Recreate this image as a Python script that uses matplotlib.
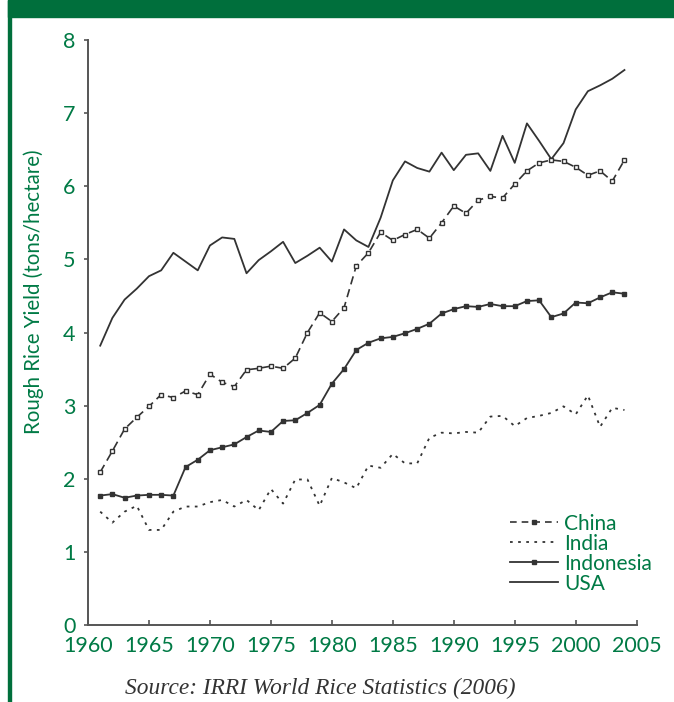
import matplotlib
matplotlib.use("Agg")
import matplotlib.pyplot as plt
from matplotlib.patches import Rectangle
from matplotlib.lines import Line2D

# anos e rendimento (t/ha)
anos = list(range(1961, 2005))

china = [2.09, 2.38, 2.68, 2.84, 2.99, 3.15, 3.11, 3.20, 3.15, 3.43,
         3.32, 3.26, 3.49, 3.51, 3.54, 3.51, 3.65, 4.00, 4.27, 4.15,
         4.34, 4.91, 5.09, 5.37, 5.26, 5.34, 5.41, 5.29, 5.50, 5.73,
         5.63, 5.81, 5.86, 5.84, 6.03, 6.21, 6.32, 6.36, 6.34, 6.26,
         6.15, 6.21, 6.07, 6.36]

india = [1.55, 1.40, 1.55, 1.63, 1.30, 1.30, 1.55, 1.62, 1.62, 1.68,
         1.71, 1.62, 1.71, 1.57, 1.86, 1.66, 1.99, 1.99, 1.63, 2.01,
         1.95, 1.87, 2.18, 2.15, 2.34, 2.21, 2.21, 2.56, 2.63, 2.62,
         2.64, 2.63, 2.85, 2.86, 2.72, 2.83, 2.86, 2.90, 2.99, 2.88,
         3.14, 2.71, 2.97, 2.94]

indonesia = [1.77, 1.79, 1.74, 1.77, 1.78, 1.78, 1.77, 2.16, 2.26, 2.39,
             2.43, 2.47, 2.57, 2.66, 2.64, 2.79, 2.80, 2.90, 3.01, 3.30,
             3.50, 3.76, 3.86, 3.92, 3.94, 3.99, 4.05, 4.12, 4.26, 4.32,
             4.36, 4.35, 4.39, 4.36, 4.36, 4.43, 4.44, 4.21, 4.26, 4.41,
             4.40, 4.48, 4.55, 4.53]

usa = [3.82, 4.20, 4.45, 4.60, 4.77, 4.85, 5.09, 4.97, 4.85, 5.19,
       5.30, 5.28, 4.81, 4.99, 5.11, 5.24, 4.95, 5.05, 5.16, 4.97,
       5.41, 5.26, 5.17, 5.57, 6.08, 6.34, 6.25, 6.20, 6.46, 6.22,
       6.43, 6.45, 6.21, 6.69, 6.32, 6.86, 6.62, 6.37, 6.59, 7.05,
       7.30, 7.38, 7.47, 7.59]

anos_ticks = list(range(1960, 2006, 5))
y_ticks = list(range(0, 9))

verde = "#007a45"
faixa = "#006f3c"
cor = "#333333"
fonte = "Lato"

fig = plt.figure(figsize=(6.74, 7.02), dpi=100)
ax = fig.add_axes([0.1306, 0.1097, 0.814, 0.8333])

ax.plot(anos, usa, color=cor, lw=1.3, label="USA", zorder=3)
ax.plot(anos, indonesia, color=cor, lw=1.3, marker="s", ms=3.3,
        mfc=cor, mec=cor, label="Indonesia", zorder=3)
ax.plot(anos, india, color=cor, lw=1.3, ls=(0, (1.5, 3)), label="India", zorder=3)
ax.plot(anos, china, color=cor, lw=1.2, ls=(0, (5, 3)), marker="s", ms=3.0,
        mfc="white", mec=cor, mew=1.0, label="China", zorder=3)

ax.set_xlim(1960, 2005)
ax.set_ylim(0, 8)
ax.set_xticks(anos_ticks)
ax.set_yticks(y_ticks)
for s in ["top", "right"]:
    ax.spines[s].set_visible(False)
for s in ["left", "bottom"]:
    ax.spines[s].set_color("#555555")
    ax.spines[s].set_linewidth(1.4)
ax.tick_params(axis="x", direction="in", length=3.5, width=1.2, color="#555555",
               pad=8, labelsize=15.5, labelcolor=verde)
ax.tick_params(axis="y", direction="out", length=3, width=1.2, color="#555555",
               pad=6, labelsize=15.5, labelcolor=verde)
for t in ax.get_xticklabels() + ax.get_yticklabels():
    t.set_fontfamily(fonte)

# legenda
handles = [
    Line2D([], [], color=cor, lw=1.2, ls=(0, (4, 3)), marker="s", ms=3.0,
           mfc=cor, mec=cor),
    Line2D([], [], color=cor, lw=1.3, ls=(0, (1.5, 3))),
    Line2D([], [], color=cor, lw=1.3, marker="s", ms=3.3, mfc=cor, mec=cor),
    Line2D([], [], color=cor, lw=1.3),
]
leg = ax.legend(handles, ["China", "India", "Indonesia", "USA"], numpoints=1,
                loc="lower left", bbox_to_anchor=(0.751, 0.036), frameon=False,
                handlelength=2.26, handletextpad=0.3, labelspacing=0.0,
                borderpad=0, prop={"family": fonte, "size": 15})
for t in leg.get_texts():
    t.set_color(verde)

fig.text(34 / 674, 1 - 292 / 702, "Rough Rice Yield (tons/hectare)", rotation=90,
         ha="center", va="center", color=verde, fontsize=14.8, family=fonte)

fig.text(320 / 674, 1 - 688 / 702, "Source: IRRI World Rice Statistics (2006)",
         ha="center", va="center", color="#333333", fontsize=16.8,
         family="Liberation Serif", style="italic")

# faixa verde e borda
fig.patches.append(Rectangle((8 / 674, 1 - 17 / 702), 1, 17 / 702,
                             transform=fig.transFigure, color=faixa, zorder=0))
fig.patches.append(Rectangle((8 / 674, 0), 2.5 / 674, 1,
                             transform=fig.transFigure, color=faixa, zorder=0))

fig.savefig("out.png", dpi=100)
